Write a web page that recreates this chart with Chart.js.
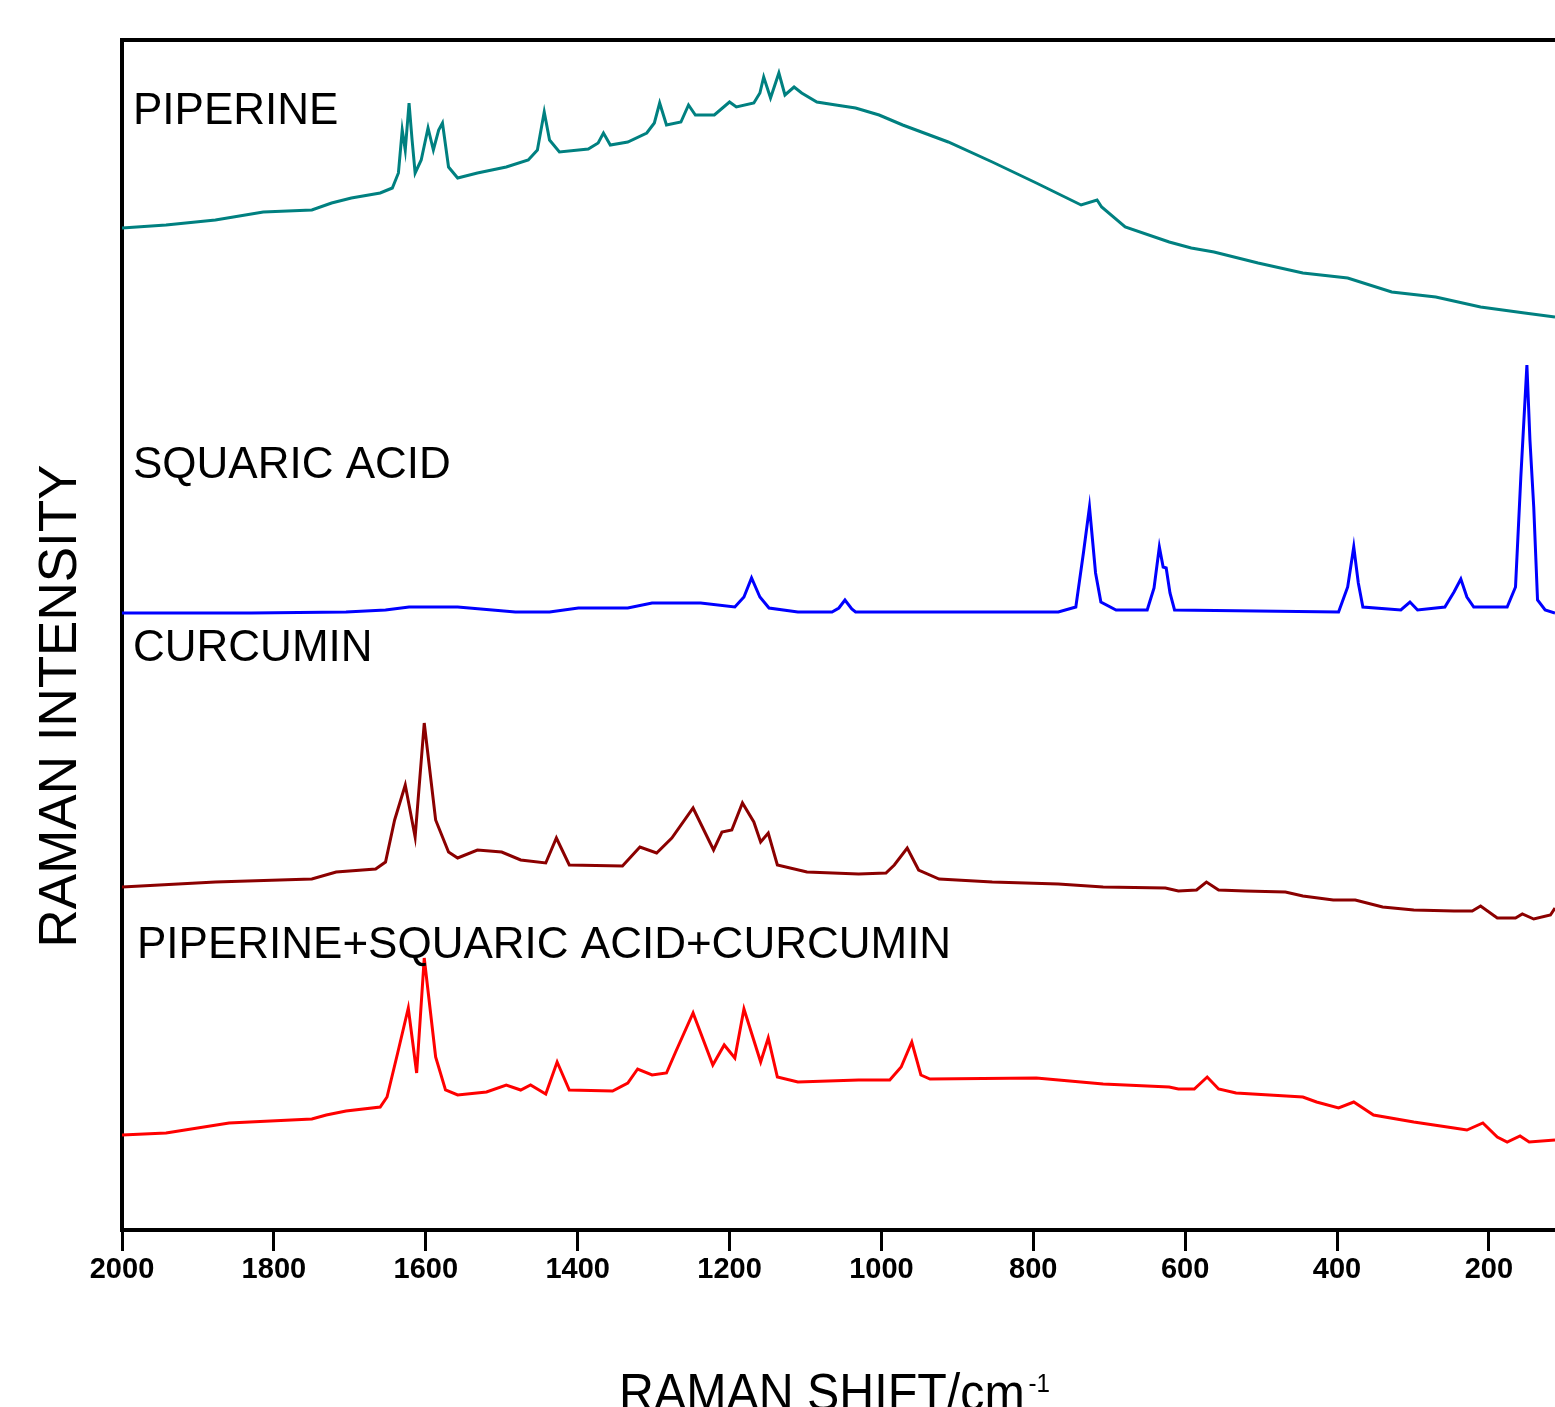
<!DOCTYPE html>
<html>
  <head>
    <title>Raman Spectra</title>
    <script src="https://cdn.jsdelivr.net/npm/chart.js@4.4.0/dist/chart.umd.min.js"></script>
    <style>
      body {
        margin: 0;
        overflow: hidden;
        background: #fff;
      }
    </style>
  </head>
  <body>
    <canvas id="myChart" width="1555" height="1407"></canvas>
    <script>
      // x ticks (reversed axis, cm-1)
      const tickValues = [2000, 1800, 1600, 1400, 1200, 1000, 800, 600, 400, 200];
      const seriesNames = ["PIPERINE", "SQUARIC ACID", "CURCUMIN", "PIPERINE+SQUARIC ACID+CURCUMIN"];
      const seriesColors = ["#008080", "#0000ff", "#8b0000", "#ff0000"];

      // piperine (teal), stacked on top
      const piperineShift = [2000, 1942, 1877, 1814, 1750, 1724, 1698, 1660, 1644, 1636, 1631, 1627, 1622, 1618, 1614, 1606, 1597, 1590, 1583, 1578, 1570, 1558, 1532, 1494, 1465, 1453, 1444, 1437, 1424, 1386, 1373, 1366, 1357, 1334, 1309, 1299, 1292, 1283, 1264, 1254, 1245, 1220, 1200, 1191, 1168, 1160, 1155, 1146, 1135, 1127, 1115, 1105, 1085, 1060, 1034, 1003, 972, 912, 854, 796, 737, 716, 710, 679, 621, 592, 562, 504, 445, 386, 328, 270, 211, 153, 113];
      const piperineIntensity = [1002, 1005, 1010, 1018, 1020, 1027, 1032, 1037, 1042, 1057, 1100, 1080, 1127, 1090, 1057, 1070, 1102, 1080, 1100, 1107, 1063, 1052, 1057, 1063, 1070, 1080, 1118, 1090, 1078, 1081, 1087, 1097, 1085, 1088, 1097, 1107, 1127, 1105, 1108, 1125, 1115, 1115, 1128, 1123, 1127, 1137, 1153, 1132, 1157, 1135, 1143, 1137, 1128, 1125, 1122, 1115, 1105, 1088, 1068, 1047, 1025, 1030, 1023, 1003, 988, 982, 978, 967, 957, 952, 938, 933, 923, 917, 913];

      // squaric acid (blue)
      const squaricShift = [2000, 1830, 1705, 1653, 1622, 1558, 1482, 1437, 1399, 1334, 1302, 1238, 1193, 1181, 1171, 1160, 1148, 1110, 1065, 1056, 1048, 1039, 1034, 767, 744, 734, 726, 718, 711, 691, 650, 641, 634, 629, 625, 620, 614, 398, 386, 378, 372, 366, 316, 304, 294, 258, 246, 237, 229, 220, 176, 165, 158, 150, 146, 141, 136, 126, 113];
      const squaricIntensity = [617, 617, 618, 620, 623, 623, 618, 618, 622, 622, 627, 627, 623, 633, 652, 633, 622, 618, 618, 622, 630, 621, 618, 618, 623, 677, 723, 657, 628, 620, 620, 642, 683, 663, 662, 637, 620, 618, 643, 683, 647, 623, 620, 628, 620, 623, 638, 651, 633, 623, 623, 643, 753, 865, 790, 723, 630, 620, 617];

      // curcumin (dark red)
      const curcuminShift = [2000, 1877, 1750, 1718, 1666, 1653, 1641, 1627, 1614, 1602, 1587, 1570, 1558, 1532, 1500, 1475, 1442, 1428, 1411, 1341, 1318, 1296, 1276, 1248, 1221, 1210, 1197, 1183, 1168, 1159, 1149, 1137, 1098, 1030, 994, 983, 966, 951, 924, 854, 767, 708, 626, 609, 585, 572, 556, 521, 468, 445, 405, 376, 340, 299, 246, 222, 211, 189, 165, 156, 141, 119, 113];
      const curcuminIntensity = [343, 348, 351, 358, 361, 368, 410, 445, 393, 507, 410, 378, 372, 380, 378, 370, 367, 392, 365, 364, 383, 377, 392, 422, 380, 398, 400, 427, 408, 388, 397, 365, 358, 356, 357, 365, 382, 360, 351, 348, 346, 343, 342, 339, 340, 348, 340, 339, 338, 334, 330, 330, 323, 320, 319, 319, 324, 312, 312, 316, 311, 315, 322];

      // mixture (red)
      const mixShift = [2000, 1942, 1859, 1750, 1731, 1705, 1660, 1651, 1637, 1623, 1612, 1602, 1587, 1574, 1558, 1520, 1494, 1475, 1462, 1442, 1427, 1411, 1354, 1334, 1321, 1302, 1283, 1271, 1248, 1222, 1207, 1193, 1181, 1159, 1149, 1137, 1110, 1030, 989, 974, 960, 948, 936, 796, 708, 621, 609, 588, 571, 556, 533, 445, 427, 398, 378, 352, 299, 246, 229, 208, 189, 176, 159, 147, 113];
      const mixIntensity = [95, 97, 107, 111, 115, 119, 123, 133, 177, 222, 157, 272, 173, 140, 135, 138, 145, 140, 145, 136, 168, 140, 139, 147, 161, 155, 157, 178, 217, 165, 185, 172, 221, 168, 192, 153, 148, 150, 150, 163, 188, 155, 151, 152, 146, 143, 141, 141, 153, 141, 137, 133, 128, 122, 128, 115, 108, 102, 100, 107, 93, 88, 94, 88, 90];

      const toPoints = (xs, ys) => xs.map((x, i) => ({ x: x, y: ys[i] }));
      const allSeries = [
        toPoints(piperineShift, piperineIntensity),
        toPoints(squaricShift, squaricIntensity),
        toPoints(curcuminShift, curcuminIntensity),
        toPoints(mixShift, mixIntensity),
      ];

      const FONT = "'Liberation Sans', Arial, sans-serif";

      // labels and axis titles drawn on top
      const textPlugin = {
        id: "texts",
        afterDraw(chart) {
          const ctx = chart.ctx;
          ctx.save();
          ctx.fillStyle = "#000";
          ctx.textAlign = "left";
          ctx.textBaseline = "alphabetic";
          ctx.font = "44px " + FONT;
          const labelPos = [
            [133, 124],
            [133, 478],
            [133, 661],
            [137, 958],
          ];
          seriesNames.forEach((name, i) => {
            ctx.fillText(name, labelPos[i][0], labelPos[i][1]);
          });

          // y title
          ctx.save();
          ctx.translate(76, 706);
          ctx.rotate(-Math.PI / 2);
          ctx.textAlign = "center";
          ctx.font = "53px " + FONT;
          ctx.fillText("RAMAN INTENSITY", 0, 0);
          ctx.restore();

          // x title with superscript, a bit narrower like the original
          ctx.save();
          ctx.translate(619, 1410);
          ctx.scale(0.93, 1);
          ctx.font = "52px " + FONT;
          const main = "RAMAN SHIFT/cm";
          ctx.fillText(main, 0, 0);
          const w = ctx.measureText(main).width;
          ctx.font = "26px " + FONT;
          ctx.fillText("-1", w + 4, -18);
          ctx.restore();
          ctx.restore();
        },
      };

      const chart = new Chart(document.getElementById("myChart"), {
        type: "line",
        data: {
          datasets: allSeries.map((pts, i) => ({
            label: seriesNames[i],
            data: pts,
            borderColor: seriesColors[i],
            borderWidth: 3,
            pointRadius: 0,
            tension: 0,
            fill: false,
          })),
        },
        options: {
          responsive: false,
          animation: false,
          layout: { padding: { top: 40, right: 0, left: 0, bottom: 0 } },
          plugins: {
            legend: { display: false },
            tooltip: { enabled: false },
          },
          scales: {
            x: {
              type: "linear",
              reverse: true,
              min: 113,
              max: 2000,
              afterBuildTicks: (s) => {
                s.ticks = tickValues.map((v) => ({ value: v }));
              },
              afterFit: (s) => {
                s.height = 177;
              },
              ticks: {
                autoSkip: false,
                maxRotation: 0,
                padding: 2,
                color: "#000",
                font: { family: FONT, size: 29, weight: "bold" },
                callback: (v) => String(v),
              },
              grid: {
                drawOnChartArea: false,
                drawTicks: true,
                tickLength: 21,
                tickWidth: 3,
                tickColor: "#000",
              },
              border: { display: true, color: "#000", width: 4 },
            },
            xTop: {
              type: "linear",
              position: "top",
              ticks: { display: false },
              grid: { display: false, drawTicks: false },
              border: { display: true, color: "#000", width: 4 },
              afterFit: (s) => {
                s.height = 0;
              },
            },
            y: {
              type: "linear",
              min: 0,
              max: 1190,
              ticks: { display: false },
              grid: { drawOnChartArea: false, drawTicks: false },
              border: { display: true, color: "#000", width: 4 },
              afterFit: (s) => {
                s.width = 122;
              },
            },
          },
        },
        plugins: [textPlugin],
      });
    </script>
  </body>
</html>
